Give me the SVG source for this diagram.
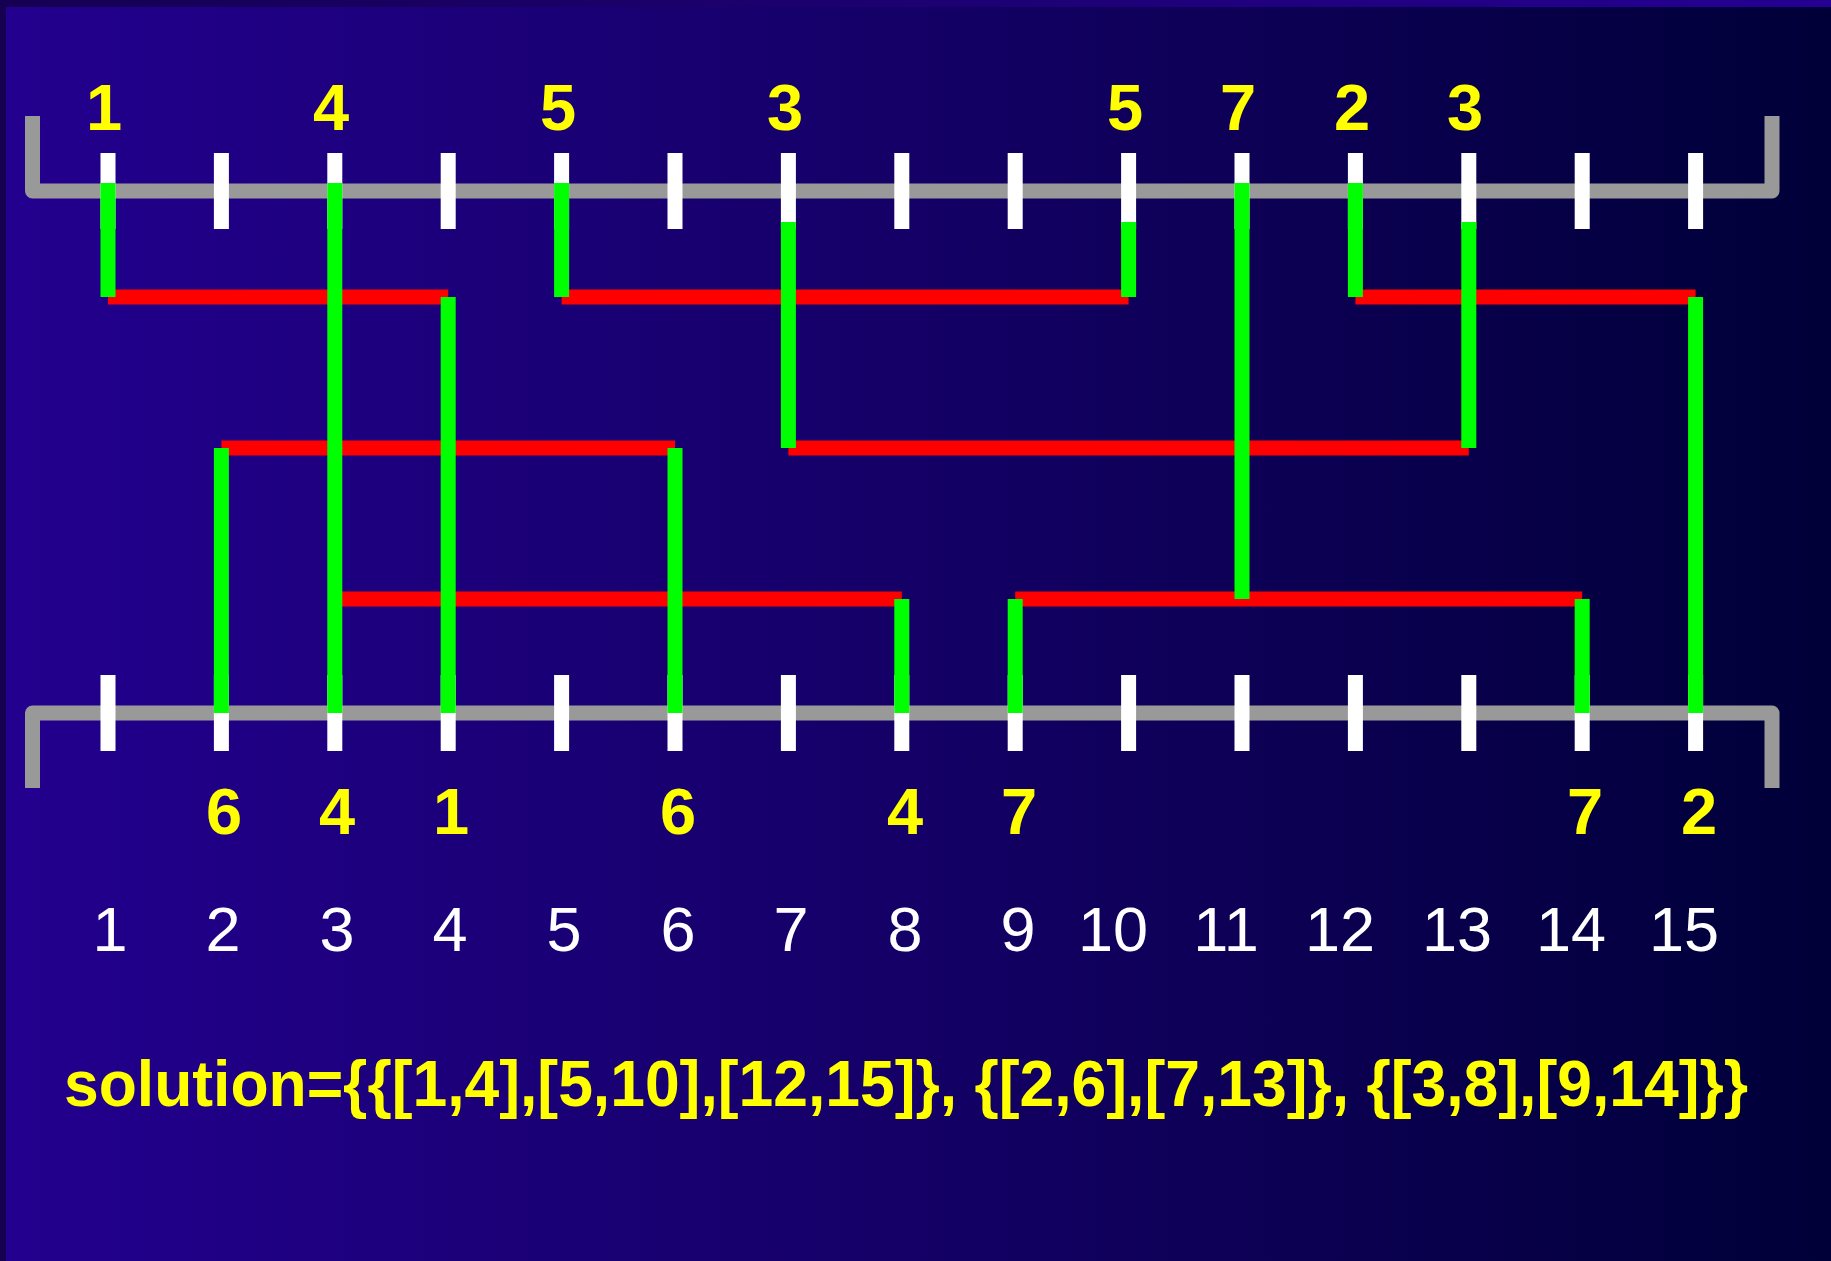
<svg xmlns="http://www.w3.org/2000/svg" width="1831" height="1261" viewBox="0 0 1831 1261">
  <defs>
    <linearGradient id="bgOuter" x1="0" y1="0" x2="1" y2="0">
      <stop offset="0" stop-color="#150052"/>
      <stop offset="1" stop-color="#250092"/>
    </linearGradient>
    <linearGradient id="bgInner" x1="0" y1="0" x2="1" y2="0">
      <stop offset="0" stop-color="#23008e"/>
      <stop offset="0.5" stop-color="#140066"/>
      <stop offset="1" stop-color="#000038"/>
    </linearGradient>
    <style>
      .bracket { fill: none; stroke: #999999; stroke-width: 15; stroke-linejoin: round; }
      .tick { stroke: #ffffff; stroke-width: 15; }
      .red { stroke: #ff0000; stroke-width: 15; }
      .green { stroke: #00ff00; stroke-width: 15; }
      .net { font-family: "Liberation Sans", Arial, sans-serif; font-weight: bold; font-size: 65px; fill: #ffff00; text-anchor: middle; }
      .col { font-family: "Liberation Sans", Arial, sans-serif; font-weight: normal; font-size: 63px; fill: #ffffff; text-anchor: middle; }
      .sol { font-family: "Liberation Sans", Arial, sans-serif; font-weight: bold; font-size: 64px; fill: #ffff00; }
    </style>
  </defs>

  <g id="background">
    <rect x="0" y="0" width="1831" height="1261" fill="url(#bgOuter)"/>
    <rect x="6" y="7" width="1825" height="1254" fill="url(#bgInner)"/>
  </g>

  <g id="channel-top">
    <path class="bracket" d="M32.5,116 V191 H1772 V116"/>
    <g id="ticks-top">
      <line class="tick" x1="108" y1="153" x2="108" y2="229"/>
      <line class="tick" x1="221.4" y1="153" x2="221.4" y2="229"/>
      <line class="tick" x1="334.8" y1="153" x2="334.8" y2="229"/>
      <line class="tick" x1="448.2" y1="153" x2="448.2" y2="229"/>
      <line class="tick" x1="561.6" y1="153" x2="561.6" y2="229"/>
      <line class="tick" x1="675" y1="153" x2="675" y2="229"/>
      <line class="tick" x1="788.4" y1="153" x2="788.4" y2="229"/>
      <line class="tick" x1="901.8" y1="153" x2="901.8" y2="229"/>
      <line class="tick" x1="1015.2" y1="153" x2="1015.2" y2="229"/>
      <line class="tick" x1="1128.6" y1="153" x2="1128.6" y2="229"/>
      <line class="tick" x1="1242" y1="153" x2="1242" y2="229"/>
      <line class="tick" x1="1355.4" y1="153" x2="1355.4" y2="229"/>
      <line class="tick" x1="1468.8" y1="153" x2="1468.8" y2="229"/>
      <line class="tick" x1="1582.2" y1="153" x2="1582.2" y2="229"/>
      <line class="tick" x1="1695.6" y1="153" x2="1695.6" y2="229"/>
    </g>
  </g>

  <g id="channel-bottom">
    <path class="bracket" d="M32.5,788 V713 H1772 V788"/>
    <g id="ticks-bottom">
      <line class="tick" x1="108" y1="675" x2="108" y2="751"/>
      <line class="tick" x1="221.4" y1="675" x2="221.4" y2="751"/>
      <line class="tick" x1="334.8" y1="675" x2="334.8" y2="751"/>
      <line class="tick" x1="448.2" y1="675" x2="448.2" y2="751"/>
      <line class="tick" x1="561.6" y1="675" x2="561.6" y2="751"/>
      <line class="tick" x1="675" y1="675" x2="675" y2="751"/>
      <line class="tick" x1="788.4" y1="675" x2="788.4" y2="751"/>
      <line class="tick" x1="901.8" y1="675" x2="901.8" y2="751"/>
      <line class="tick" x1="1015.2" y1="675" x2="1015.2" y2="751"/>
      <line class="tick" x1="1128.6" y1="675" x2="1128.6" y2="751"/>
      <line class="tick" x1="1242" y1="675" x2="1242" y2="751"/>
      <line class="tick" x1="1355.4" y1="675" x2="1355.4" y2="751"/>
      <line class="tick" x1="1468.8" y1="675" x2="1468.8" y2="751"/>
      <line class="tick" x1="1582.2" y1="675" x2="1582.2" y2="751"/>
      <line class="tick" x1="1695.6" y1="675" x2="1695.6" y2="751"/>
    </g>
  </g>

  <g id="connectors">
    <g id="tracks">
      <line class="red" x1="108" y1="297" x2="448.2" y2="297"/>
      <line class="red" x1="561.6" y1="297" x2="1128.6" y2="297"/>
      <line class="red" x1="1355.4" y1="297" x2="1695.6" y2="297"/>
      <line class="red" x1="221.4" y1="448" x2="675" y2="448"/>
      <line class="red" x1="788.4" y1="448" x2="1468.8" y2="448"/>
      <line class="red" x1="334.8" y1="599" x2="901.8" y2="599"/>
      <line class="red" x1="1015.2" y1="599" x2="1582.2" y2="599"/>
    </g>
    <g id="doglegs">
      <line class="green" x1="108" y1="183" x2="108" y2="297"/>
      <line class="green" x1="334.8" y1="183" x2="334.8" y2="713"/>
      <line class="green" x1="448.2" y1="297" x2="448.2" y2="713"/>
      <line class="green" x1="561.6" y1="183" x2="561.6" y2="297"/>
      <line class="green" x1="788.4" y1="222" x2="788.4" y2="448"/>
      <line class="green" x1="1128.6" y1="222" x2="1128.6" y2="297"/>
      <line class="green" x1="1242" y1="183" x2="1242" y2="599"/>
      <line class="green" x1="1355.4" y1="183" x2="1355.4" y2="297"/>
      <line class="green" x1="1468.8" y1="222" x2="1468.8" y2="448"/>
      <line class="green" x1="1695.6" y1="297" x2="1695.6" y2="713"/>
      <line class="green" x1="221.4" y1="448" x2="221.4" y2="713"/>
      <line class="green" x1="675" y1="448" x2="675" y2="713"/>
      <line class="green" x1="901.8" y1="599" x2="901.8" y2="713"/>
      <line class="green" x1="1015.2" y1="599" x2="1015.2" y2="713"/>
      <line class="green" x1="1582.2" y1="599" x2="1582.2" y2="713"/>
    </g>
  </g>

  <g id="labels-top">
    <text class="net" x="104" y="130">1</text>
    <text class="net" x="331" y="130">4</text>
    <text class="net" x="558" y="130">5</text>
    <text class="net" x="785" y="130">3</text>
    <text class="net" x="1125" y="130">5</text>
    <text class="net" x="1238" y="130">7</text>
    <text class="net" x="1352" y="130">2</text>
    <text class="net" x="1465" y="130">3</text>
  </g>

  <g id="labels-bottom">
    <text class="net" x="224" y="834">6</text>
    <text class="net" x="337" y="834">4</text>
    <text class="net" x="451" y="834">1</text>
    <text class="net" x="678" y="834">6</text>
    <text class="net" x="905" y="834">4</text>
    <text class="net" x="1019" y="834">7</text>
    <text class="net" x="1585" y="834">7</text>
    <text class="net" x="1699" y="834">2</text>
  </g>

  <g id="column-numbers">
    <text class="col" x="110" y="951">1</text>
    <text class="col" x="223" y="951">2</text>
    <text class="col" x="337" y="951">3</text>
    <text class="col" x="450" y="951">4</text>
    <text class="col" x="564" y="951">5</text>
    <text class="col" x="678" y="951">6</text>
    <text class="col" x="791" y="951">7</text>
    <text class="col" x="905" y="951">8</text>
    <text class="col" x="1018" y="951">9</text>
    <text class="col" x="1113" y="951">10</text>
    <text class="col" x="1226" y="951">11</text>
    <text class="col" x="1340" y="951">12</text>
    <text class="col" x="1457" y="951">13</text>
    <text class="col" x="1571" y="951">14</text>
    <text class="col" x="1684" y="951">15</text>
  </g>

  <g id="solution">
    <text class="sol" x="64" y="1106" textLength="1684" lengthAdjust="spacingAndGlyphs">solution={{[1,4],[5,10],[12,15]}, {[2,6],[7,13]}, {[3,8],[9,14]}}</text>
  </g>
</svg>
